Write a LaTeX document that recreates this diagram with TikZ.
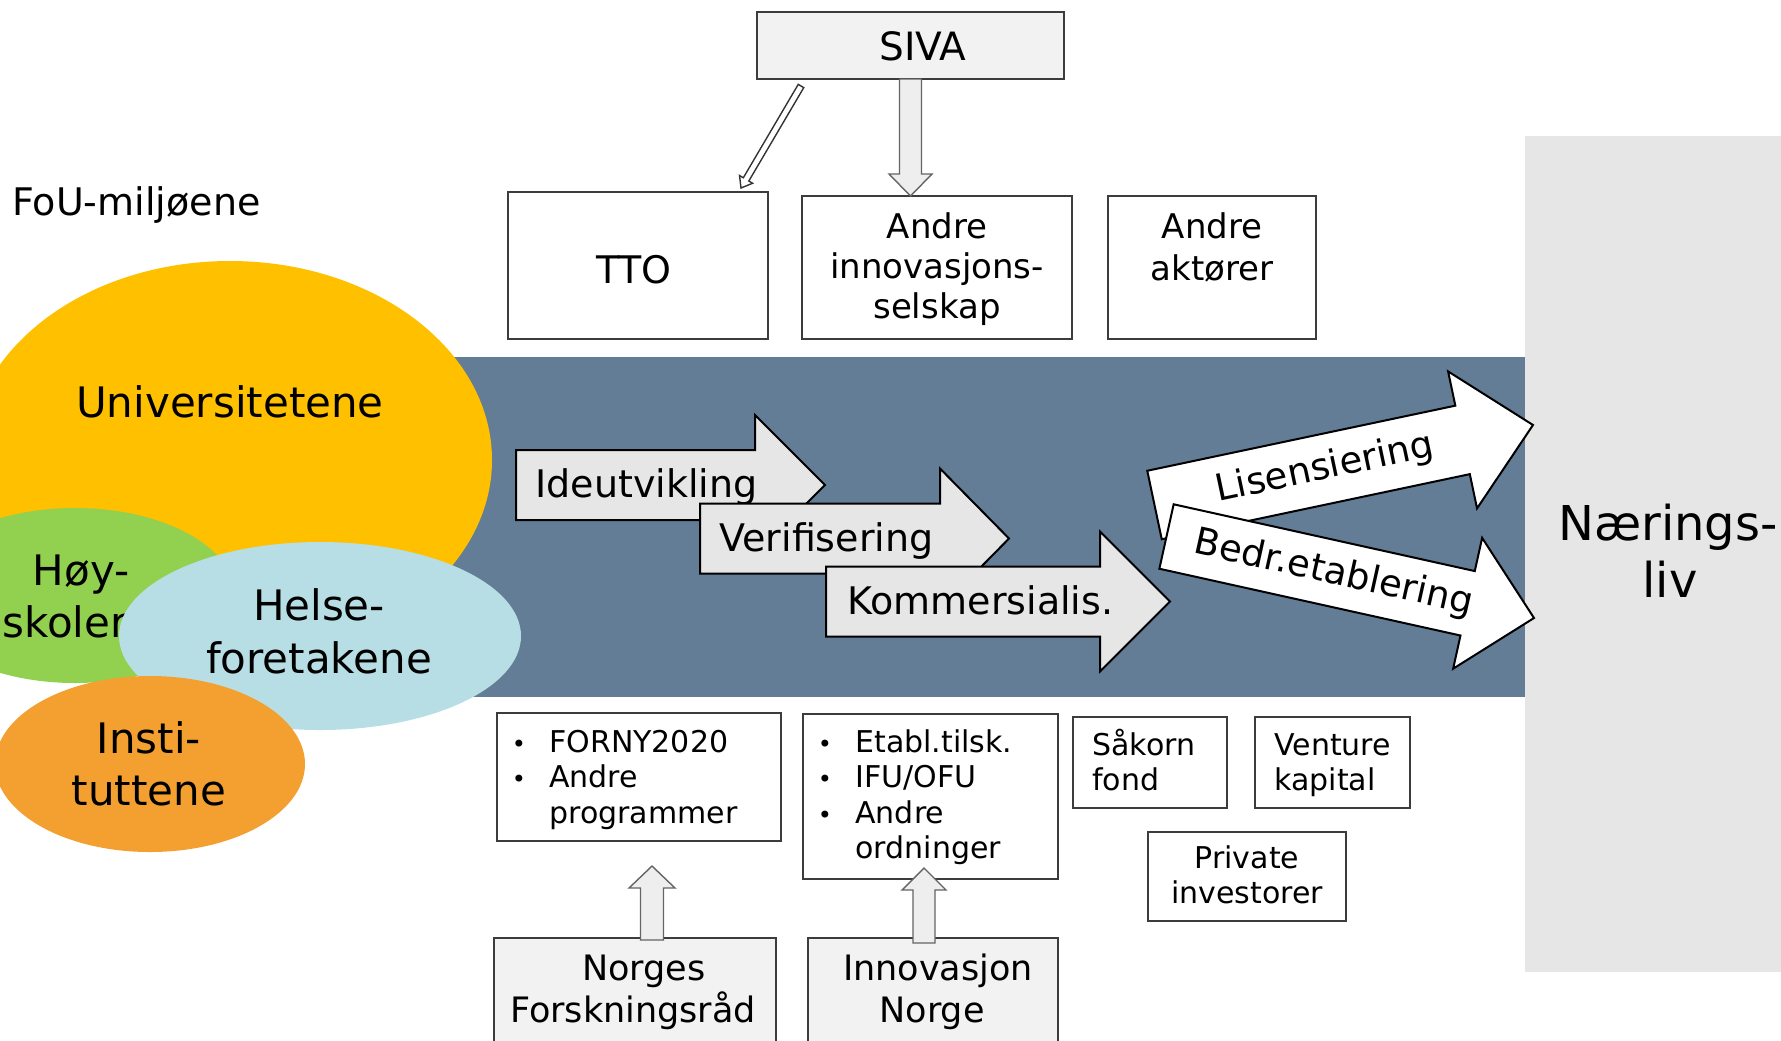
\documentclass[tikz,border=0pt]{standalone}
\usepackage{fontspec}
\setmainfont{DejaVu Sans}
\usetikzlibrary{calc,shapes.geometric}
\definecolor{bandblue}{RGB}{99,125,151}
\definecolor{uniyellow}{RGB}{255,192,0}
\definecolor{hoygreen}{RGB}{146,208,80}
\definecolor{helseblue}{RGB}{183,222,228}
\definecolor{instorange}{RGB}{244,160,48}
\definecolor{panelgray}{RGB}{230,230,230}
\definecolor{boxgray}{RGB}{242,242,242}
\definecolor{chevgray}{RGB}{230,230,230}
\definecolor{hollowfill}{RGB}{238,238,238}
\definecolor{hollowline}{RGB}{100,100,100}
\definecolor{boxline}{RGB}{60,60,60}
% block arrow: #1 style, #2 tail centre, #3 tip, #4 shaft half width, #5 head half width, #6 head length
\newcommand\blkarrow[6]{%
  \coordinate (bahb) at ($(#3)!#6!(#2)$);
  \draw[#1] ($(#2)!#4!90:(#3)$) -- ($(bahb)!#4!90:(#3)$) -- ($(bahb)!#5!90:(#3)$) -- (#3)
    -- ($(bahb)!#5!-90:(#3)$) -- ($(bahb)!#4!-90:(#3)$) -- ($(#2)!#4!-90:(#3)$) -- cycle;
}
\begin{document}
\begin{tikzpicture}[x=0.5pt,y=-0.5pt,
  ell/.style={ellipse, inner sep=0pt, outer sep=0pt, draw=none},
  elltext/.style={font=\fontsize{21}{25}\selectfont, anchor=base, inner sep=0pt},
  chevtext/.style={font=\fontsize{19}{23}\selectfont, anchor=base west, inner sep=0pt},
  rottext/.style={font=\fontsize{18.5}{22}\selectfont, inner sep=0pt, sloped},
  chev/.style={fill=chevgray, draw=black, line width=1pt},
  whitearrow/.style={fill=white, draw=black, line width=1pt},
  hollow/.style={fill=hollowfill, draw=hollowline, line width=0.7pt},
  thinhollow/.style={fill=white, draw=black!80, line width=0.7pt},
  box/.style={draw=boxline, line width=1pt, fill=white, inner sep=0pt, outer sep=0pt},
  graybox/.style={box, fill=boxgray},
  toptext/.style={font=\fontsize{17}{20}\selectfont, anchor=base, inner sep=0pt},
  listtext/.style={font=\fontsize{15}{18}\selectfont, anchor=base west, inner sep=0pt},
  bul/.style={font=\fontsize{12}{14}\selectfont, anchor=base, inner sep=0pt},
  lowtext/.style={font=\fontsize{17.5}{21}\selectfont, anchor=base, inner sep=0pt},
  nartext/.style={font=\fontsize{24}{28}\selectfont, anchor=base, inner sep=0pt}
]
\useasboundingbox (0,0) rectangle (1781,1040);
\clip (0,0) rectangle (1781,1040);

% background panels
\fill[panelgray] (1525,136) rectangle (1781,972);
\fill[bandblue] (300,357) rectangle (1525,697);

% FoU label
\node[anchor=base west, font=\fontsize{19}{23}\selectfont, inner sep=0pt] (fou) at (12,215) {FoU-miljøene};

% ellipses
\node[ell, fill=uniyellow, minimum width=262pt, minimum height=199pt] (uni) at (230,460) {};
\node[elltext] (unit) at (230,417) {Universitetene};
\node[ell, fill=hoygreen, minimum width=160pt, minimum height=87.5pt] (hoy) at (75,595.5) {};
\node[elltext] (hoy1) at (81,585) {Høy-};
\node[elltext, anchor=base west] (hoy2) at (2,637) {skoler};
\node[ell, fill=helseblue, minimum width=201pt, minimum height=94pt] (helse) at (320,636) {};
\node[elltext] (hel1) at (319,620) {Helse-};
\node[elltext] (hel2) at (319,673) {foretakene};
\node[ell, fill=instorange, minimum width=155pt, minimum height=88pt] (inst) at (150,764) {};
\node[elltext] (ins1) at (149,753) {Insti-};
\node[elltext] (ins2) at (149,805) {tuttene};

% process chevrons
\coordinate (c1t) at (516,485); \coordinate (c1h) at (825,485);
\blkarrow{chev}{c1t}{c1h}{17.5pt}{35pt}{35pt}
\node[chevtext] (ideu) at (535,497) {Ideutvikling};
\coordinate (c2t) at (700,538.5); \coordinate (c2h) at (1009,538.5);
\blkarrow{chev}{c2t}{c2h}{17.5pt}{35pt}{34.5pt}
\node[chevtext] (veri) at (719,551) {Verifisering};
\coordinate (c3t) at (826,601.5); \coordinate (c3h) at (1170,601.5);
\blkarrow{chev}{c3t}{c3h}{17.5pt}{35pt}{35pt}
\node[chevtext] (komm) at (847,614) {Kommersialis.};

% white outcome arrows
\coordinate (lt) at (1154.5,505); \coordinate (lh) at (1533,425);
\blkarrow{whitearrow}{lt}{lh}{17.5pt}{35pt}{36pt}
\path (lt) -- (lh) node[rottext, pos=0.45] (lis) {Lisensiering};
\coordinate (bt) at (1166.5,536.5); \coordinate (bh) at (1534,618);
\blkarrow{whitearrow}{bt}{bh}{16.5pt}{33.5pt}{34pt}
\path (bt) -- (bh) node[rottext, pos=0.455] (bedr) {Bedr.etablering};

% Naeringsliv
\node[nartext] (nar1) at (1668,540) {Nærings-};
\node[nartext] (nar2) at (1670,597) {liv};

% top boxes
\node[graybox, minimum width=153.5pt, minimum height=33.5pt] (siva) at (910.5,45.5) {};
\node[font=\fontsize{19.5}{23}\selectfont, anchor=base, inner sep=0pt] (sivat) at (923,60) {SIVA};
\node[box, minimum width=130pt, minimum height=73.5pt] (tto) at (638,265.5) {};
\node[toptext, font=\fontsize{19}{22}\selectfont] (ttot) at (634,283) {TTO};
\node[box, minimum width=135pt, minimum height=71.5pt] (inno) at (937,267.5) {};
\node[toptext] (inno1) at (937,238) {Andre};
\node[toptext] (inno2) at (937,278) {innovasjons-};
\node[toptext] (inno3) at (937,318) {selskap};
\node[box, minimum width=104pt, minimum height=71.5pt] (aktor) at (1212,267.5) {};
\node[toptext] (akt1) at (1212,238) {Andre};
\node[toptext] (akt2) at (1212,280) {aktører};

% SIVA arrows
\coordinate (s1) at ($(siva.south west)+(44,7)$);
\coordinate (s2) at ($(tto.north east)+(-27,-4)$);
\blkarrow{thinhollow}{s1}{s2}{1.6pt}{3.8pt}{5pt}
\coordinate (v1) at (siva.south);
\coordinate (v2) at (siva.south |- inno.north);
\blkarrow{hollow}{v1}{v2}{5.5pt}{10.75pt}{11pt}

% bottom boxes
\node[box, minimum width=142pt, minimum height=64pt] (forny) at (639,777) {};
\node[bul] (fb1) at (519,752) {•};
\node[bul] (fb2) at (519,787) {•};
\node[listtext] (fl1) at (549,752) {FORNY2020};
\node[listtext] (fl2) at (549,787) {Andre};
\node[listtext] (fl3) at (549,823) {programmer};

\node[box, minimum width=127.5pt, minimum height=82.5pt] (etabl) at (930.5,796.5) {};
\node[bul] (eb1) at (825,752) {•};
\node[bul] (eb2) at (825,787) {•};
\node[bul] (eb3) at (825,823) {•};
\node[listtext] (el1) at (855,752) {Etabl.tilsk.};
\node[listtext] (el2) at (855,787) {IFU/OFU};
\node[listtext] (el3) at (855,823) {Andre};
\node[listtext] (el4) at (855,858) {ordninger};

\node[box, minimum width=77pt, minimum height=45.5pt] (sakorn) at (1150,762.5) {};
\node[listtext] (sak1) at (1092,755) {Såkorn};
\node[listtext] (sak2) at (1092,790) {fond};
\node[box, minimum width=77.5pt, minimum height=45.5pt] (venture) at (1332.5,762.5) {};
\node[listtext] (ven1) at (1274,755) {Venture};
\node[listtext] (ven2) at (1274,790) {kapital};
\node[box, minimum width=99pt, minimum height=44.5pt] (private) at (1247,876.5) {};
\node[listtext, anchor=base] (pri1) at (1247,868) {Private};
\node[listtext, anchor=base] (pri2) at (1247,903) {investorer};

\node[graybox, minimum width=141pt, minimum height=61pt] (nfr) at (635,999) {};
\node[lowtext] (nfr1) at (644,980) {Norges};
\node[lowtext] (nfr2) at (633,1022) {Forskningsråd};
\node[graybox, minimum width=125pt, minimum height=61pt] (inn) at (933,999) {};
\node[lowtext] (inn1) at (938,980) {Innovasjon};
\node[lowtext] (inn2) at (932,1022) {Norge};

% upward arrows
\coordinate (n1) at ($(nfr.north)+(17,2)$);
\coordinate (n2) at ($(forny.south)+(13,25)$);
\blkarrow{hollow}{n1}{n2}{5.75pt}{11.5pt}{11pt}
\coordinate (i1) at ($(inn.north)+(-9,5)$);
\coordinate (i2) at ($(etabl.south)+(-6.5,-11)$);
\blkarrow{hollow}{i1}{i2}{5.5pt}{11pt}{11pt}
\end{tikzpicture}
\end{document}
